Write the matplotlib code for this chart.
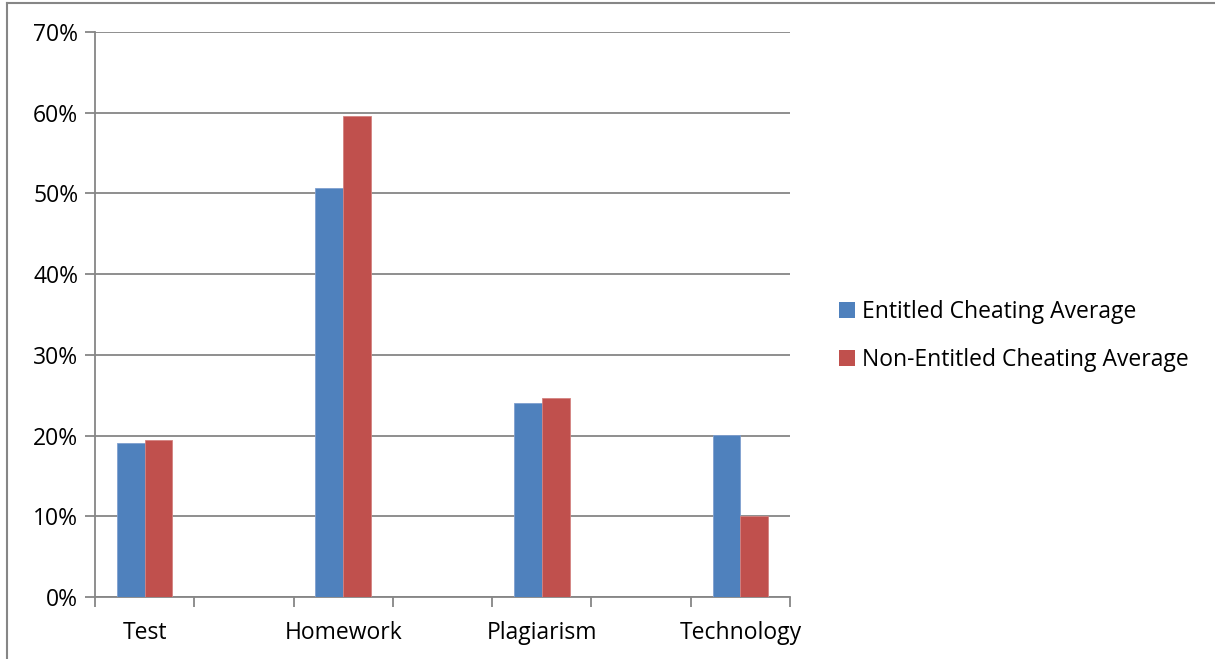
import matplotlib.pyplot as plt
from matplotlib.lines import Line2D
from matplotlib.patches import Patch
from matplotlib.ticker import PercentFormatter

# categories (blank slots between them as in the original sheet)
categories = ['Test', '', 'Homework', '', 'Plagiarism', '', 'Technology']
entitled = [19.1, None, 50.7, None, 24.0, None, 20.1]
non_entitled = [19.4, None, 59.6, None, 24.7, None, 10.0]
series_names = ['Entitled Cheating Average', 'Non-Entitled Cheating Average']

blue = '#4f81bd'
red = '#c0504d'
grid_col = '#868686'
fs = 16.5

plt.rcParams['font.family'] = ['Open Sans', 'DejaVu Sans']

fig = plt.figure(figsize=(12.15, 6.59), dpi=100)
ax = fig.add_axes([95 / 1215, 62 / 659, 695 / 1215, 565 / 659])

w = 0.28
for i in range(len(categories)):
    if entitled[i] is not None:
        ax.bar(i - w / 2, entitled[i], width=w, color=blue, edgecolor='#7f9fcf', linewidth=0.6, zorder=3)
    if non_entitled[i] is not None:
        ax.bar(i + w / 2, non_entitled[i], width=w, color=red, edgecolor='#d48280', linewidth=0.6, zorder=3)

ax.set_xlim(-0.5, len(categories) - 0.5)
ax.set_ylim(0, 70)
ax.set_yticks(range(0, 71, 10))
ax.yaxis.set_major_formatter(PercentFormatter(decimals=0))
ax.yaxis.grid(True, color=grid_col, linewidth=1.3, zorder=0)

# category labels in the middle, ticks on the boundaries
ax.set_xticks([i - 0.5 for i in range(len(categories) + 1)])
ax.set_xticklabels([])
ax.set_xticks(range(len(categories)), minor=True)
ax.set_xticklabels(categories, minor=True, fontsize=fs)
ax.tick_params(axis='x', which='minor', length=0, pad=17)
ax.tick_params(axis='x', which='major', length=7, width=1.3, color=grid_col)
ax.tick_params(axis='y', length=7, width=1.3, color=grid_col, labelsize=fs, pad=5)

for s in ['top', 'right']:
    ax.spines[s].set_visible(False)
for s in ['left', 'bottom']:
    ax.spines[s].set_color(grid_col)
    ax.spines[s].set_linewidth(1.3)

handles = [Patch(facecolor=blue), Patch(facecolor=red)]
fig.legend(handles, series_names, loc='center left', bbox_to_anchor=(818 / 1215, 323 / 659),
           frameon=False, fontsize=fs, handlelength=0.7, handleheight=0.7,
           handletextpad=0.3, labelspacing=1.05)

# outer frame (top and left edges only visible)
fig.add_artist(Line2D([7 / 1215, 1], [1 - 3 / 659, 1 - 3 / 659], color=grid_col, linewidth=1.5))
fig.add_artist(Line2D([7 / 1215, 7 / 1215], [0, 1 - 3 / 659], color=grid_col, linewidth=1.5))

fig.savefig('out.png', dpi=100)
